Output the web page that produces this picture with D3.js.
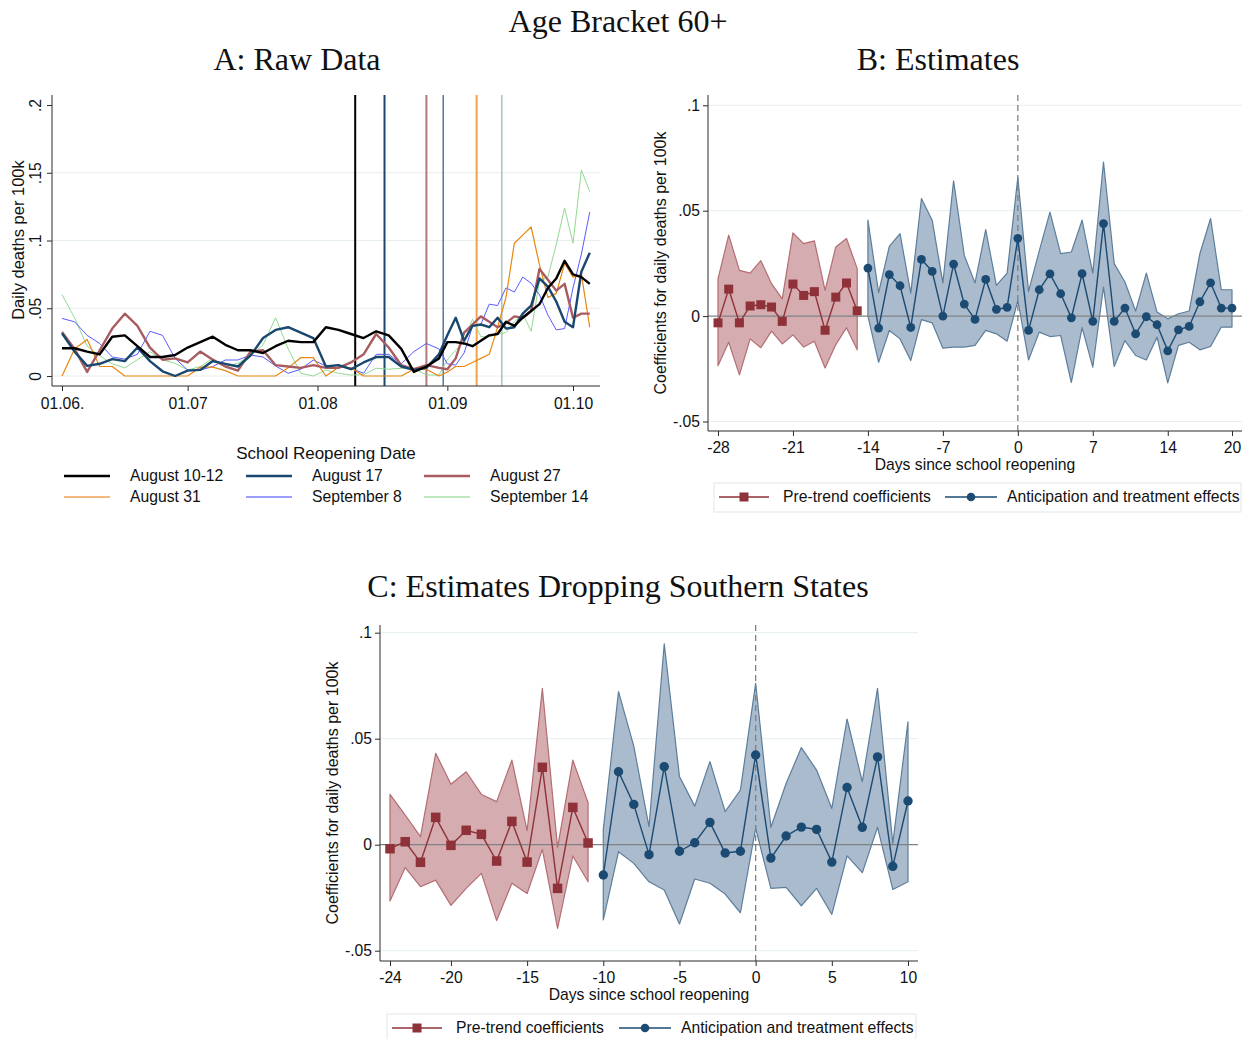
<!DOCTYPE html>
<html>
<head>
<meta charset="utf-8">
<script src="https://cdn.jsdelivr.net/npm/d3@7"></script>
<style>
  body { margin: 0; background: #fff; }
</style>
</head>
<body>
<svg id="chart" width="1250" height="1039"></svg>
<script>
// ---- Panel A: raw data, days since 1 June ----
const aDays = [0, 3, 6, 9, 12, 15, 18, 21, 24, 27, 30, 33, 36, 39, 42, 45, 48, 51, 54, 57,
  60, 63, 66, 69, 72, 75, 78, 81, 84, 87,
  90, 92, 94, 96, 98, 100, 102, 104, 106, 108, 110, 112, 114, 116, 118, 120, 122, 124, 126];
const aug10 = [.0205, .0205, .018, .016, .029, .030, .022, .014, .014, .0155, .021, .025, .029, .023, .019, .019, .017, .022, .026, .025,
  .025, .036, .034, .031, .028, .033, .030, .020, .003, .007,
  .013, .025, .025, .024, .022, .026, .030, .031, .040, .037, .043, .048, .053, .065, .072, .085, .075, .073, .068];
const aug17 = [.0315, .018, .0075, .009, .0125, .011, .021, .011, .0035, 0, .004, .0045, .011, .009, .007, .015, .028, .034, .036, .032,
  .028, .007, .008, .005, .010, .014, .014, .007, .0045, .006,
  .016, .030, .043, .026, .037, .038, .036, .043, .035, .036, .046, .052, .072, .066, .055, .040, .036, .077, .091];
const aug27 = [.0325, .020, .003, .019, .035, .046, .037, .021, .012, .013, .010, .018, .012, .007, .004, .018, .019, .008, .007, .006,
  .008, .006, .006, .010, .016, .031, .021, .008, .005, .008,
  .006, .005, .013, .032, .038, .044, .040, .036, .039, .044, .043, .048, .079, .071, .063, .068, .043, .046, .046];
const aug31 = [0, .020, .027, .007, .007, 0, 0, 0, 0, 0, 0, .0065, .0065, .004, 0, 0, 0, 0, .006, .0135,
  .0135, 0, .0065, .006, 0, 0, 0, 0, .005, .005,
  0, .003, .007, .007, .010, .013, .016, .036, .058, .098, .104, .110, .082, .058, .061, .083, .073, .075, .036];
const sep8 = [.0425, .040, .030, .024, .014, .0125, .016, .033, .030, .013, .0044, .0044, .007, .0118, .0118, .0155, .014, .0074, .002, .005,
  .0118, .0074, .008, .0057, .002, .016, .016, .009, .018, .024,
  .020, .009, .008, .017, .0365, .038, .053, .052, .065, .062, .073, .0685, .060, .045, .034, .035, .065, .090, .121];
const sep14 = [.060, .043, .022, .015, .009, .006, .012, .018, .012, .0094, .0044, .0069, .013, .007, .0094, .015, .023, .043, .020, .002,
  0, .0044, .002, .0007, .001, .0057, .005, .0057, .0057, .0007,
  .0007, .012, .019, .026, .042, .029, .029, .031, .032, .040, .046, .033, .070, .073, .097, .124, .098, .152, .136];
const reopenNames = ['August 10-12', 'August 17', 'August 27', 'August 31', 'September 8', 'September 14'];
const reopenDays = [70, 77, 87, 91, 99, 105];
const aTickDays = [0, 30, 61, 92, 122];
const aTickLabels = ['01.06.', '01.07', '01.08', '01.09', '01.10'];
const aYTicks = [0, .05, .1, .15, .2];

// ---- Panel B: estimates ----
const bPreDays = d3.range(-28, -14);
const bPre = [-.0032, .0128, -.0032, .0048, .0054, .0043, -.0025, .0152, .0098, .0116, -.0067, .009, .0157, .0025];
const bPreHi = [.0177, .0384, .0217, .0204, .0263, .0154, .0082, .0395, .0344, .0357, .0122, .0328, .0368, .0225];
const bPreLo = [-.0236, -.0124, -.0279, -.0108, -.015, -.0071, -.0132, -.0089, -.0147, -.0119, -.0246, -.0135, -.0055, -.016];
const bEffDays = d3.range(-14, 21);
const bEff = [.0228, -.0057, .0197, .0144, -.0054, .0269, .0212, 0, .0247, .0057, -.0016, .0174, .0032, .0041, .0369, -.0068, .0125, .02,
  .0106, -.0008, .0201, -.0025, .0439, -.0025, .0038, -.0084, -.0003, -.0041, -.0165, -.0065, -.0049, .0068, .0158, .0038, .0038];
const bEffHi = [.0455, .0111, .0331, .0391, .0109, .0558, .0455, .0158, .0642, .0288, .0157, .041, .0146, .0204, .0658, .0117, .0309, .0493,
  .0296, .0304, .0455, .0204, .0731, .0249, .0162, .0024, .0204, .0019, -.0013, .0011, .0024, .0296, .0463, .0125, .0125];
const bEffLo = [0, -.0219, -.0068, -.0108, -.0211, -.0017, -.0032, -.0152, -.0147, -.0147, -.0139, -.0068, -.0084, -.0119, .0074, -.0208, -.0076, -.0097,
  -.0092, -.0315, -.0055, -.0242, .0138, -.0239, -.0116, -.0187, -.0208, -.01, -.0317, -.0139, -.0124, -.016, -.0144, -.0052, -.0052];
const bXTicks = [-28, -21, -14, -7, 0, 7, 14, 20];

// ---- Panel C: estimates dropping southern states ----
const cPreDays = d3.range(-24, -10);
const cPre = [-.0019, .0014, -.0083, .0129, -.0003, .0068, .0049, -.0077, .011, -.0082, .0365, -.0206, .0176, .0008];
const cPreHi = [.0237, .014, .0038, .0431, .0285, .0344, .0237, .0203, .0399, .0066, .0737, -.0014, .0399, .0198];
const cPreLo = [-.0266, -.0108, -.0198, -.0167, -.0286, -.0206, -.0135, -.0358, -.0182, -.023, -.0022, -.0395, -.0053, -.0175];
const cEffDays = d3.range(-10, 11);
const cEff = [-.0143, .0344, .019, -.0047, .0368, -.0031, .0009, .0105, -.0039, -.0031, .0423, -.0063, .0041, .0083, .0072, -.0082, .027, .0082, .0414, -.0102, .0206];
const cEffHi = [.0072, .0722, .0465, .0085, .0947, .0321, .0182, .0392, .0156, .0258, .0761, .0082, .0289, .0458, .0352, .0171, .0593, .0297, .0737, .0006, .058];
const cEffLo = [-.0355, -.0033, -.0088, -.0175, -.0214, -.0374, -.0162, -.0182, -.0233, -.0321, .0077, -.0206, -.0201, -.0288, -.0206, -.0329, -.0053, -.0132, .0082, -.0211, -.0175];
const cXTicks = [-24, -20, -15, -10, -5, 0, 5, 10];
const estYTicks = [-.05, 0, .05, .1];

const SANS = '"Liberation Sans", Arial, Helvetica, sans-serif';
const SERIF = '"Liberation Serif", "Times New Roman", serif';
const AXIS = '#2b2b2b';
const GRID = '#e6eeef';
const FS = 15.7; // base font size
const stataFmt = v => v === 0 ? '0' : String(v).replace('0.', '.');

const svg = d3.select('#chart');

function label(g, x, y, str, size, anchor, font, rot) {
  const t = g.append('text')
    .attr('font-family', font || SANS)
    .attr('font-size', size)
    .attr('text-anchor', anchor || 'middle')
    .attr('fill', '#111')
    .text(str);
  if (rot) t.attr('transform', 'translate(' + x + ',' + y + ') rotate(' + rot + ')');
  else t.attr('x', x).attr('y', y);
  return t;
}

// titles
label(svg, 618, 32, 'Age Bracket 60+', 32, 'middle', SERIF);
label(svg, 297, 70, 'A: Raw Data', 32, 'middle', SERIF);
label(svg, 938, 70, 'B: Estimates', 32, 'middle', SERIF);
label(svg, 618, 597, 'C: Estimates Dropping Southern States', 32, 'middle', SERIF);

// ================= Panel A =================
(function () {
  const g = svg.append('g');
  const t0 = new Date(Date.UTC(2020, 5, 1));
  const toDate = d => d3.utcDay.offset(t0, d);
  const x = d3.scaleUtc().domain([t0, toDate(122)]).range([62, 573]);
  const y = d3.scaleLinear().domain([0, 0.2]).range([376, 105]);
  const L = 52, R = 600, T = 95, B = 386;

  g.selectAll('.grid').data(aYTicks.filter(v => v < 0.2)).enter().append('line')
    .attr('x1', L).attr('x2', R).attr('y1', d => y(d)).attr('y2', d => y(d))
    .attr('stroke', GRID).attr('stroke-width', 1);

  const vCol = ['#000000', '#1a476f', '#b3787b', '#1a476f', '#f0a34a', '#a9c3bb'];
  const vW = [2, 2, 2, 1.1, 2, 1.5];
  g.selectAll('.vline').data(reopenDays).enter().append('line')
    .attr('x1', d => x(toDate(d))).attr('x2', d => x(toDate(d)))
    .attr('y1', T).attr('y2', B)
    .attr('stroke', (d, i) => vCol[i]).attr('stroke-width', (d, i) => vW[i]);

  const series = [aug10, aug17, aug27, aug31, sep8, sep14];
  const sCol = ['#000000', '#1a476f', '#a95c60', '#e8870e', '#5a5aff', '#93d993'];
  const sW = [2.4, 2.4, 2.4, 1.2, 1, 1];
  const line = d3.line().x((d, i) => x(toDate(aDays[i]))).y(d => y(d));
  const order = [5, 4, 3, 2, 1, 0];
  order.forEach(k => {
    g.append('path').datum(series[k]).attr('d', line)
      .attr('fill', 'none').attr('stroke', sCol[k]).attr('stroke-width', sW[k])
      .attr('stroke-linejoin', 'round');
  });

  // axes
  const xa = g.append('g').attr('transform', 'translate(0,' + B + ')')
    .call(d3.axisBottom(x).tickValues(aTickDays.map(toDate)).tickSize(5)
      .tickFormat((d, i) => aTickLabels[i]));
  xa.select('.domain').remove();
  xa.selectAll('line').attr('stroke', AXIS);
  xa.selectAll('text').attr('font-family', SANS).attr('font-size', FS).attr('fill', '#111').attr('dy', '0.95em');
  const ya = g.append('g').attr('transform', 'translate(' + L + ',0)')
    .call(d3.axisLeft(y).tickValues(aYTicks).tickSize(5).tickFormat(stataFmt));
  ya.select('.domain').remove();
  ya.selectAll('line').attr('stroke', AXIS);
  ya.selectAll('text').attr('font-family', SANS).attr('font-size', FS).attr('fill', '#111')
    .attr('x', null).attr('dy', null).attr('text-anchor', 'middle')
    .attr('transform', 'translate(-11,0) rotate(-90)');
  g.append('line').attr('x1', L).attr('x2', L).attr('y1', T).attr('y2', B).attr('stroke', AXIS);
  g.append('line').attr('x1', L).attr('x2', R).attr('y1', B).attr('y2', B).attr('stroke', AXIS);
  label(g, 24, 240, 'Daily deaths per 100k', 16.5, 'middle', SANS, -90);

  // legend
  label(g, 326, 459, 'School Reopening Date', 17, 'middle');
  const colX = [64, 246, 424];
  reopenNames.forEach((nm, i) => {
    const cx = colX[i % 3], cy = i < 3 ? 476 : 497;
    g.append('line').attr('x1', cx).attr('x2', cx + 46).attr('y1', cy).attr('y2', cy)
      .attr('stroke', i < 3 ? sCol[i] : ['#f0a050', '#7c7cff', '#a8e2a8'][i - 3])
      .attr('stroke-width', i < 3 ? 2.4 : 1.5);
    label(g, cx + 66, cy + 5, nm, FS, 'start');
  });
})();

// ================= Panels B and C =================
const PRE = { mark: '#8f3139', area: '#d5acaf', edge: '#b36d73' };
const EFF = { mark: '#1b4a73', area: '#a9bbcc', edge: '#5d7e9b' };

function estPanel(o) {
  const g = svg.append('g');
  const x = d3.scaleLinear().domain(o.xDom).range(o.xRange);
  const y = d3.scaleLinear().domain([-0.05, 0.1]).range(o.yRange);

  estYTicks.filter(v => v !== 0).forEach(v => {
    g.append('line').attr('x1', o.L).attr('x2', o.R).attr('y1', y(v)).attr('y2', y(v))
      .attr('stroke', GRID);
  });

  const groups = [
    { days: o.preDays, est: o.pre, hi: o.preHi, lo: o.preLo, st: PRE, sq: true },
    { days: o.effDays, est: o.eff, hi: o.effHi, lo: o.effLo, st: EFF, sq: false }
  ];
  groups.forEach(s => {
    const idx = d3.range(s.days.length);
    const area = d3.area().x(i => x(s.days[i])).y0(i => y(s.lo[i])).y1(i => y(s.hi[i]));
    g.append('path').datum(idx).attr('d', area)
      .attr('fill', s.st.area).attr('stroke', s.st.edge).attr('stroke-width', 1.2)
      .attr('stroke-linejoin', 'round');
  });

  g.append('line').attr('x1', o.L).attr('x2', o.R).attr('y1', y(0)).attr('y2', y(0))
    .attr('stroke', '#7f8284').attr('stroke-width', 1.3);
  g.append('line').attr('x1', x(0)).attr('x2', x(0)).attr('y1', o.T).attr('y2', o.B)
    .attr('stroke', '#808080').attr('stroke-width', 1.3).attr('stroke-dasharray', '6,4');

  groups.forEach(s => {
    const idx = d3.range(s.days.length);
    const line = d3.line().x(i => x(s.days[i])).y(i => y(s.est[i]));
    g.append('path').datum(idx).attr('d', line)
      .attr('fill', 'none').attr('stroke', s.st.mark).attr('stroke-width', 1.4);
    if (s.sq) {
      g.selectAll(null).data(idx).enter().append('rect')
        .attr('x', i => x(s.days[i]) - o.sq / 2).attr('y', i => y(s.est[i]) - o.sq / 2)
        .attr('width', o.sq).attr('height', o.sq).attr('fill', s.st.mark);
    } else {
      g.selectAll(null).data(idx).enter().append('circle')
        .attr('cx', i => x(s.days[i])).attr('cy', i => y(s.est[i]))
        .attr('r', o.r).attr('fill', s.st.mark);
    }
  });

  // axes
  const xa = g.append('g').attr('transform', 'translate(0,' + o.B + ')')
    .call(d3.axisBottom(x).tickValues(o.xTicks).tickSize(5).tickFormat(d3.format('d')));
  xa.select('.domain').remove();
  xa.selectAll('line').attr('stroke', AXIS);
  xa.selectAll('text').attr('font-family', SANS).attr('font-size', FS).attr('fill', '#111')
    .attr('dy', '0.9em').text(d => d < 0 ? '-' + Math.abs(d) : d);
  const ya = g.append('g').attr('transform', 'translate(' + o.L + ',0)')
    .call(d3.axisLeft(y).tickValues(estYTicks).tickSize(5).tickFormat(stataFmt));
  ya.select('.domain').remove();
  ya.selectAll('line').attr('stroke', AXIS);
  ya.selectAll('text').attr('font-family', SANS).attr('font-size', FS).attr('fill', '#111').attr('x', -8);
  g.append('line').attr('x1', o.L).attr('x2', o.L).attr('y1', o.T).attr('y2', o.B).attr('stroke', AXIS);
  g.append('line').attr('x1', o.L).attr('x2', o.R).attr('y1', o.B).attr('y2', o.B).attr('stroke', AXIS);
  label(g, o.yTitleX, (o.T + o.B) / 2, 'Coefficients for daily deaths per 100k', 16, 'middle', SANS, -90);
  label(g, o.xTitleX, o.B + 39, 'Days since school reopening', FS);

  // legend
  const lg = o.leg;
  g.append('rect').attr('x', lg.x).attr('y', lg.y).attr('width', lg.w).attr('height', 29)
    .attr('fill', 'none').attr('stroke', '#e1e7e9');
  const cy = lg.y + 14;
  g.append('line').attr('x1', lg.x + 5).attr('x2', lg.x + 55).attr('y1', cy).attr('y2', cy)
    .attr('stroke', PRE.mark).attr('stroke-width', 1.4);
  g.append('rect').attr('x', lg.x + 30 - 4.5).attr('y', cy - 4.5).attr('width', 9).attr('height', 9).attr('fill', PRE.mark);
  label(g, lg.x + 69, cy + 5, 'Pre-trend coefficients', FS, 'start');
  g.append('line').attr('x1', lg.x2).attr('x2', lg.x2 + 52).attr('y1', cy).attr('y2', cy)
    .attr('stroke', EFF.mark).attr('stroke-width', 1.4);
  g.append('circle').attr('cx', lg.x2 + 26).attr('cy', cy).attr('r', 4.3).attr('fill', EFF.mark);
  label(g, lg.x2 + 62, cy + 5, 'Anticipation and treatment effects', FS, 'start');
}

estPanel({
  xDom: [-28, 20], xRange: [718, 1232], yRange: [421.5, 105.3],
  L: 708, R: 1242, T: 95, B: 431, xTicks: bXTicks, sq: 9, r: 4.4,
  preDays: bPreDays, pre: bPre, preHi: bPreHi, preLo: bPreLo,
  effDays: bEffDays, eff: bEff, effHi: bEffHi, effLo: bEffLo,
  yTitleX: 666, xTitleX: 975,
  leg: { x: 714, y: 483, w: 527, x2: 945 }
});

estPanel({
  xDom: [-24, 10], xRange: [390, 908], yRange: [950.7, 632.7],
  L: 380, R: 918, T: 625, B: 961, xTicks: cXTicks, sq: 9.5, r: 4.7,
  preDays: cPreDays, pre: cPre, preHi: cPreHi, preLo: cPreLo,
  effDays: cEffDays, eff: cEff, effHi: cEffHi, effLo: cEffLo,
  yTitleX: 338, xTitleX: 649,
  leg: { x: 387, y: 1014, w: 529, x2: 619 }
});
</script>
</body>
</html>
